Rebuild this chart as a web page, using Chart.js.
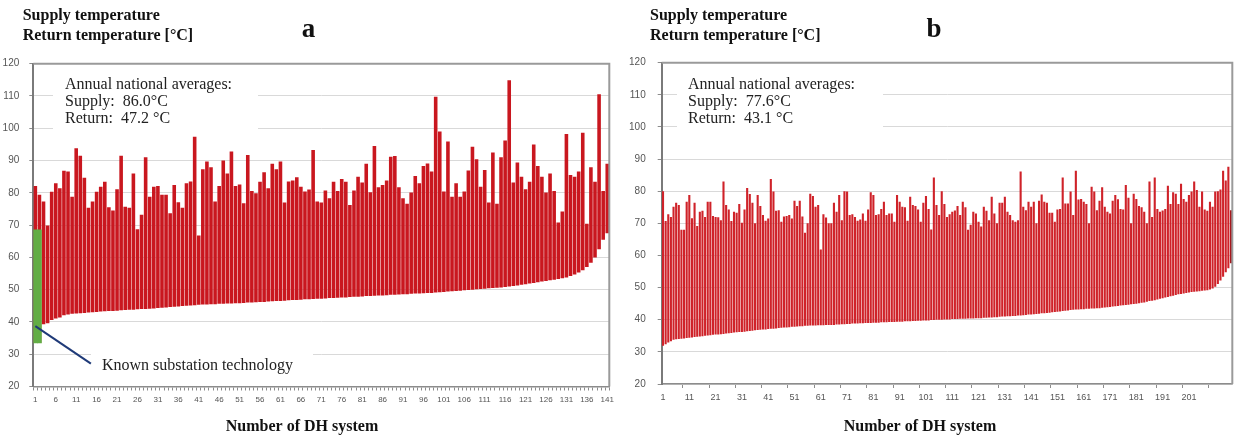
<!DOCTYPE html>
<html>
<head>
<meta charset="utf-8">
<script src="https://cdn.jsdelivr.net/npm/chart.js@4.4.1/dist/chart.umd.min.js"></script>
<style>
  html,body{margin:0;padding:0;background:#fff;}
  #wrap{position:relative;width:1235px;height:436px;overflow:hidden;}
  canvas{position:absolute;top:0;}
  #ca{left:0;}
  #cb{left:620px;}
</style>
</head>
<body>
<div id="wrap">
  <canvas id="ca" width="620" height="436"></canvas>
  <canvas id="cb" width="615" height="436"></canvas>
</div>
<script>
// panel a: supply / return temperature per DH system (sorted by return)
const supplyA = [
  82.1, 79.4, 77.3, 69.9, 80.3, 83.0, 81.4, 86.8, 86.6, 78.8,
  93.8, 91.5, 84.7, 75.4, 77.3, 80.3, 81.9, 83.4, 75.5, 74.5,
  81.1, 91.5, 75.7, 75.4, 86.0, 68.7, 73.2, 91.0, 78.8, 81.9,
  82.1, 79.4, 79.4, 73.7, 82.4, 77.1, 75.4, 83.0, 83.5, 97.4,
  66.8, 87.3, 89.7, 87.9, 77.3, 82.1, 90.0, 86.0, 92.8, 82.1,
  82.6, 76.8, 91.7, 80.6, 79.9, 83.4, 86.4, 81.4, 89.0, 87.3,
  89.7, 77.0, 83.5, 83.8, 84.8, 81.9, 80.4, 81.0, 93.3, 77.3,
  77.0, 80.7, 78.3, 83.4, 80.6, 84.3, 83.4, 76.2, 80.7, 85.0,
  83.2, 89.0, 80.2, 94.5, 81.7, 82.4, 83.8, 91.2, 91.4, 81.7,
  78.3, 76.6, 80.1, 85.2, 83.0, 88.3, 89.1, 86.6, 109.8, 99.0,
  80.4, 95.9, 78.8, 83.0, 78.8, 80.4, 86.9, 94.3, 90.4, 81.9,
  87.1, 77.0, 92.5, 76.6, 91.0, 96.2, 114.9, 83.2, 89.4, 85.0,
  81.1, 83.4, 95.0, 88.3, 85.0, 80.1, 86.0, 80.6, 70.8, 74.2,
  98.2, 85.5, 85.0, 86.6, 98.6, 70.4, 87.9, 83.4, 110.5, 80.6,
  89.0
];
const returnA = [
  33.5, 33.5, 39.3, 39.6, 40.6, 41.1, 41.4, 42.1, 42.3, 42.5,
  42.6, 42.7, 42.8, 42.9, 43.0, 43.1, 43.2, 43.3, 43.4, 43.4,
  43.5, 43.6, 43.7, 43.8, 43.8, 43.9, 44.0, 44.0, 44.1, 44.2,
  44.3, 44.4, 44.5, 44.6, 44.7, 44.8, 44.9, 45.0, 45.1, 45.2,
  45.3, 45.4, 45.4, 45.5, 45.5, 45.6, 45.6, 45.7, 45.7, 45.8,
  45.8, 45.9, 46.0, 46.0, 46.1, 46.2, 46.2, 46.3, 46.4, 46.5,
  46.5, 46.6, 46.7, 46.8, 46.8, 46.9, 47.0, 47.0, 47.1, 47.2,
  47.2, 47.3, 47.4, 47.4, 47.5, 47.6, 47.6, 47.7, 47.8, 47.8,
  47.9, 48.0, 48.0, 48.1, 48.2, 48.2, 48.3, 48.4, 48.4, 48.5,
  48.6, 48.6, 48.7, 48.8, 48.8, 48.9, 49.0, 49.0, 49.1, 49.2,
  49.3, 49.4, 49.5, 49.6, 49.7, 49.8, 49.9, 50.0, 50.1, 50.2,
  50.3, 50.4, 50.5, 50.6, 50.7, 50.8, 51.0, 51.1, 51.3, 51.5,
  51.7, 51.9, 52.1, 52.3, 52.5, 52.7, 52.9, 53.1, 53.3, 53.5,
  53.8, 54.2, 54.7, 55.3, 56.0, 57.0, 58.3, 60.0, 62.5, 65.5,
  67.5
];
// green part of systems 1 and 2 (known substation technology)
const knownTechA = [[33.5, 68.5], [33.5, 68.5]];
const knownLineFrom = [0, 38.7];   // [category index, °C]
const knownLineTo = [13.6, 27.1];

// panel b
const supplyB = [
  80.0, 70.7, 72.8, 72.0, 75.2, 76.4, 75.7, 68.0, 68.0, 76.7,
  78.8, 71.6, 76.4, 69.2, 73.6, 73.9, 72.0, 76.7, 76.7, 72.3,
  72.0, 71.9, 71.0, 83.0, 75.7, 74.3, 70.7, 73.6, 73.3, 76.0,
  70.2, 74.3, 81.0, 79.1, 76.4, 70.0, 78.8, 75.4, 72.6, 70.8,
  71.5, 83.8, 79.9, 73.9, 74.1, 70.5, 72.1, 72.3, 72.6, 71.5,
  77.0, 75.4, 77.0, 72.1, 67.1, 70.0, 79.2, 78.5, 75.2, 75.7,
  61.9, 72.8, 71.8, 70.0, 70.0, 76.4, 73.6, 78.8, 71.0, 80.0,
  79.9, 72.6, 72.8, 72.0, 70.8, 71.2, 73.1, 70.8, 74.3, 79.7,
  78.8, 72.6, 72.8, 74.5, 76.7, 72.6, 73.1, 73.1, 70.5, 78.8,
  76.7, 75.2, 75.0, 70.8, 78.3, 75.7, 75.4, 74.3, 70.5, 76.4,
  78.5, 74.5, 68.1, 84.3, 75.7, 72.6, 80.0, 76.0, 72.0, 72.8,
  73.6, 74.0, 75.4, 72.6, 76.7, 75.0, 68.0, 69.6, 73.6, 73.1,
  70.5, 69.0, 75.2, 73.9, 71.0, 78.3, 73.1, 70.0, 76.4, 76.4,
  78.3, 73.6, 72.6, 71.0, 70.5, 71.0, 86.1, 75.2, 74.1, 76.7,
  75.2, 76.7, 70.0, 77.0, 79.0, 76.7, 76.4, 73.3, 73.3, 70.5,
  74.3, 74.5, 84.3, 76.2, 76.2, 79.9, 72.6, 86.4, 77.4, 77.6,
  76.7, 76.0, 70.0, 81.4, 79.9, 74.1, 77.0, 81.2, 75.2, 73.6,
  73.1, 77.0, 78.8, 77.5, 74.5, 74.3, 81.9, 78.0, 70.0, 79.2,
  77.6, 75.4, 75.0, 73.6, 70.0, 83.0, 72.0, 84.3, 74.5, 73.6,
  74.0, 74.5, 81.7, 76.0, 79.7, 79.2, 76.0, 82.3, 77.6, 76.7,
  78.8, 79.9, 83.0, 80.4, 75.2, 79.9, 74.3, 73.9, 76.7, 75.2,
  79.9, 80.0, 80.5, 86.4, 83.3, 87.6, 74.1
];
const returnB = [
  31.9, 32.4, 32.9, 33.3, 33.8, 33.9, 34.0, 34.1, 34.2, 34.3,
  34.4, 34.5, 34.6, 34.7, 34.8, 34.9, 35.0, 35.1, 35.2, 35.3,
  35.4, 35.4, 35.5, 35.6, 35.7, 35.8, 35.9, 36.0, 36.1, 36.2,
  36.2, 36.3, 36.4, 36.5, 36.6, 36.7, 36.8, 36.9, 37.0, 37.0,
  37.1, 37.2, 37.2, 37.3, 37.4, 37.5, 37.6, 37.6, 37.7, 37.8,
  37.8, 37.9, 38.0, 38.0, 38.1, 38.1, 38.2, 38.2, 38.2, 38.3,
  38.3, 38.3, 38.4, 38.4, 38.4, 38.4, 38.5, 38.5, 38.6, 38.6,
  38.7, 38.7, 38.8, 38.8, 38.8, 38.9, 38.9, 39.0, 39.0, 39.0,
  39.1, 39.1, 39.1, 39.2, 39.2, 39.2, 39.3, 39.3, 39.3, 39.4,
  39.4, 39.4, 39.5, 39.5, 39.5, 39.6, 39.6, 39.7, 39.7, 39.8,
  39.8, 39.8, 39.9, 39.9, 40.0, 40.0, 40.0, 40.1, 40.1, 40.1,
  40.2, 40.2, 40.2, 40.3, 40.3, 40.3, 40.4, 40.4, 40.4, 40.5,
  40.5, 40.5, 40.6, 40.6, 40.7, 40.7, 40.8, 40.8, 40.9, 41.0,
  41.0, 41.1, 41.1, 41.2, 41.2, 41.3, 41.3, 41.4, 41.5, 41.6,
  41.6, 41.7, 41.8, 41.9, 42.0, 42.0, 42.1, 42.2, 42.3, 42.4,
  42.5, 42.6, 42.7, 42.8, 42.9, 43.0, 43.1, 43.2, 43.2, 43.3,
  43.3, 43.4, 43.4, 43.5, 43.5, 43.6, 43.6, 43.7, 43.8, 43.9,
  44.0, 44.1, 44.2, 44.3, 44.4, 44.5, 44.6, 44.7, 44.8, 44.9,
  45.0, 45.1, 45.3, 45.4, 45.6, 45.8, 45.9, 46.1, 46.3, 46.5,
  46.7, 46.9, 47.1, 47.3, 47.5, 47.7, 47.9, 48.0, 48.2, 48.3,
  48.5, 48.6, 48.7, 48.8, 48.9, 49.0, 49.1, 49.2, 49.4, 49.7,
  50.3, 51.1, 52.2, 53.4, 54.8, 56.0, 57.6
];

const yMin = 20, yMax = 120, yStep = 10;
const avgA = ['Annual national averages:', 'Supply:  86.0\u00B0C', 'Return:  47.2 \u00B0C'];
const avgB = ['Annual national averages:', 'Supply:  77.6\u00B0C', 'Return:  43.1 \u00B0C'];
const yTitle = ['Supply temperature', 'Return temperature [\u00B0C]'];
const xTitle = 'Number of DH system';

const serif = '"Liberation Serif", "Times New Roman", serif';
const sans = '"Liberation Sans", Arial, sans-serif';

// text, boxes and frame drawn on top of the chart
function makeDecor(c){
  return {
    id: 'decor',
    beforeDatasetsDraw(chart){
      const ctx = chart.ctx;
      ctx.save();
      ctx.fillStyle = '#fff';
      c.boxes.forEach(b => ctx.fillRect(b[0], b[1], b[2], b[3]));
      ctx.restore();
    },
    afterDraw(chart){
      const {ctx, chartArea: a, scales} = chart;
      ctx.save();
      ctx.strokeStyle = '#9a9a9a'; ctx.lineWidth = 2;
      ctx.beginPath(); ctx.moveTo(a.left, a.top); ctx.lineTo(a.right, a.top); ctx.lineTo(a.right, a.bottom); ctx.stroke();

      ctx.fillStyle = '#111'; ctx.textAlign = 'left'; ctx.textBaseline = 'alphabetic';
      ctx.font = 'bold 16px ' + serif;
      ctx.fillText(yTitle[0], c.titleX, 19.5);
      ctx.fillText(yTitle[1], c.titleX, 39.5);
      ctx.textAlign = 'center';
      ctx.fillText(xTitle, c.xTitleX, 431);
      ctx.font = 'bold 27px ' + serif;
      ctx.fillText(c.letter, c.letterX, 37);

      ctx.textAlign = 'left'; ctx.fillStyle = '#222';
      ctx.font = '16px ' + serif;
      c.avg.forEach((t, i) => ctx.fillText(t, c.avgX, 89 + i * 17));

      if (c.known) {
        const x0 = scales.x.getPixelForValue(knownLineFrom[0]), y0 = scales.y.getPixelForValue(knownLineFrom[1]);
        const x1 = scales.x.getPixelForValue(knownLineTo[0]), y1 = scales.y.getPixelForValue(knownLineTo[1]);
        ctx.strokeStyle = '#1f3a78'; ctx.lineWidth = 2;
        ctx.beginPath(); ctx.moveTo(x0, y0); ctx.lineTo(x1, y1); ctx.stroke();
        ctx.fillText('Known substation technology', x1 + 11, y1 + 6);
      }
      ctx.restore();
    }
  };
}

function makeChart(id, c){
  return new Chart(document.getElementById(id), {
    type: 'bar',
    data: { labels: c.labels, datasets: c.datasets },
    options: {
      responsive: false, animation: false, devicePixelRatio: 1,
      layout: { padding: { top: c.top, right: c.right, left: 0, bottom: 0 } },
      plugins: { legend: { display: false }, tooltip: { enabled: false } },
      scales: {
        x: {
          grid: { display: true, drawOnChartArea: false, offset: true, tickLength: 4, tickColor: c.tickColor },
          border: { color: '#8c8c8c', width: 1.5 },
          ticks: { autoSkip: false, maxRotation: 0, minRotation: 0, padding: 4, color: '#555',
                   font: { family: sans, size: c.xFont }, callback: c.xLabel },
          afterFit: s => { s.height = c.xHeight; }
        },
        y: {
          min: yMin, max: yMax,
          ticks: { stepSize: yStep, color: '#555', font: { family: sans, size: 10 }, padding: c.yPad },
          grid: { color: '#d9d9d9', tickColor: '#8c8c8c', tickLength: 4 },
          border: { color: '#7a7a7a', width: 2 },
          afterFit: s => { s.width = c.yWidth; }
        }
      }
    },
    plugins: [makeDecor(c)]
  });
}

const labelsA = supplyA.map((_, i) => String(i + 1));
const labelsB = supplyB.map((_, i) => String(i + 1));

makeChart('ca', {
  labels: labelsA,
  datasets: [
    { data: labelsA.map((_, i) => knownTechA[i] || null), backgroundColor: '#62ad45',
      barPercentage: 1, categoryPercentage: 1, grouped: false },
    { data: returnA.map((r, i) => [r, supplyA[i]]), backgroundColor: '#c9171f',
      barPercentage: 0.88, categoryPercentage: 1, grouped: false }
  ],
  top: 63.7, right: 10.7, xHeight: 49.5, yWidth: 33.3, yPad: 10, xFont: 8,
  tickColor: '#8c8c8c',
  xLabel: (v, i) => i % 5 === 0 ? labelsA[i] : '',
  titleX: 22.7, letter: 'a', letterX: 308.5, xTitleX: 302, avgX: 65, avg: avgA,
  boxes: [[53, 70, 205, 66], [91, 343, 222, 33]],
  known: true
});

makeChart('cb', {
  labels: labelsB,
  datasets: [
    { data: returnB.map((r, i) => [r, supplyB[i]]),
      backgroundColor: ctx => ctx.dataIndex === supplyB.length - 1 ? '#a5181d' : '#cf2229',
      barPercentage: 0.8, categoryPercentage: 1, grouped: false }
  ],
  top: 62.7, right: 2, xHeight: 52, yWidth: 41.7, yPad: 12, xFont: 9,
  tickColor: ctx => ctx.index % 10 === 8 ? '#8c8c8c' : 'rgba(0,0,0,0)',
  xLabel: (v, i) => (i % 10 === 0 && i <= 200) ? labelsB[i] : '',
  titleX: 30, letter: 'b', letterX: 314, xTitleX: 300, avgX: 68, avg: avgB,
  boxes: [[57, 70, 206, 66]],
  known: false
});
</script>
</body>
</html>
